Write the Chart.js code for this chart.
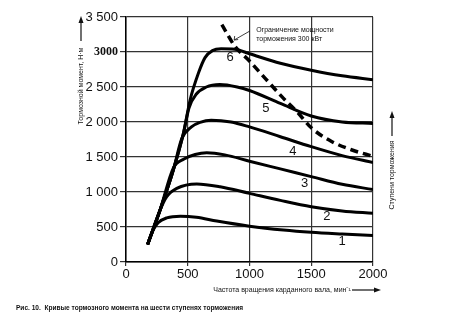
<!DOCTYPE html>
<html>
<head>
<meta charset="utf-8">
<script src="https://cdn.jsdelivr.net/npm/chart.js@4/dist/chart.umd.min.js"></script>
<style>
  body { margin: 0; background: #fff; }
  canvas { display: block; }
</style>
</head>
<body>
<canvas id="myChart" width="474" height="326"></canvas>
<script>
// data (rpm / N·m)
const stageLabels = ['1', '2', '3', '4', '5', '6'];
const rpm1 = [175, 215, 260, 330, 440, 570, 735, 1000, 1275, 1500, 1750, 2000];
const torque1 = [250, 440, 560, 630, 655, 640, 585, 512, 457, 425, 400, 378];
const rpm2 = [175, 276, 330, 411, 573, 762, 1000, 1250, 1500, 1750, 2000];
const torque2 = [250, 743, 935, 1052, 1115, 1075, 980, 880, 790, 730, 695];
const rpm3 = [175, 276, 383, 470, 560, 654, 800, 1000, 1250, 1500, 1750, 2000];
const torque3 = [250, 743, 1340, 1470, 1535, 1560, 1530, 1440, 1330, 1220, 1110, 1035];
const rpm4 = [175, 276, 383, 451, 530, 600, 690, 850, 1000, 1250, 1500, 1750, 2000];
const torque4 = [250, 743, 1314, 1760, 1930, 1995, 2025, 2000, 1930, 1790, 1648, 1520, 1420];
const rpm5 = [175, 276, 383, 465, 510, 570, 650, 760, 900, 1000, 1250, 1500, 1750, 2000];
const torque5 = [250, 743, 1314, 1839, 2200, 2400, 2500, 2535, 2500, 2450, 2265, 2085, 2000, 1980];
const rpm6 = [175, 276, 383, 465, 519, 586, 640, 700, 770, 880, 1000, 1250, 1500, 1750, 2000];
const torque6 = [250, 743, 1314, 1839, 2314, 2696, 2920, 3020, 3045, 3040, 2975, 2840, 2740, 2660, 2605];
// 300 kW power limit (dashed)
const rpmLimit = [776, 884, 992, 1127, 1262, 1384, 1505, 1668, 1830, 2000];
const torqueLimit = [3390, 3076, 2886, 2624, 2362, 2148, 1910, 1719, 1600, 1510];
// tick labels
const xTicks = [0, 500, 1000, 1500, 2000];
const yTicks = ['0', '500', '1 000', '1 500', '2 000', '2 500', '3000', '3 500'];
// where the stage numbers sit
const labelRpm = [1749, 1627, 1446, 1351, 1132, 843];
const labelTorque = [290, 647, 1124, 1586, 2195, 2918];

const allRpm = [rpm1, rpm2, rpm3, rpm4, rpm5, rpm6];
const allTorque = [torque1, torque2, torque3, torque4, torque5, torque6];

function pts(xs, ys) {
  return xs.map((v, i) => ({x: v, y: ys[i]}));
}

const datasets = allRpm.map((xs, i) => ({
  label: stageLabels[i],
  data: pts(xs, allTorque[i]),
  borderColor: '#000',
  borderWidth: 3,
  pointRadius: 0,
  cubicInterpolationMode: 'monotone',
  borderCapStyle: 'butt'
}));
datasets.push({
  label: 'limit',
  data: pts(rpmLimit, torqueLimit),
  borderColor: '#000',
  borderWidth: 3.5,
  borderDash: [8, 5],
  pointRadius: 0,
  cubicInterpolationMode: 'monotone',
  borderCapStyle: 'butt'
});

function arrow(ctx, x1, y1, x2, y2, head) {
  const a = Math.atan2(y2 - y1, x2 - x1);
  ctx.beginPath();
  ctx.moveTo(x1, y1);
  ctx.lineTo(x2 - Math.cos(a) * head, y2 - Math.sin(a) * head);
  ctx.stroke();
  ctx.beginPath();
  ctx.moveTo(x2, y2);
  ctx.lineTo(x2 - Math.cos(a) * head - Math.sin(a) * 2.5, y2 - Math.sin(a) * head + Math.cos(a) * 2.5);
  ctx.lineTo(x2 - Math.cos(a) * head + Math.sin(a) * 2.5, y2 - Math.sin(a) * head - Math.cos(a) * 2.5);
  ctx.closePath();
  ctx.fill();
}

const deco = {
  id: 'deco',
  beforeDraw(chart) {
    const ctx = chart.ctx;
    ctx.save();
    ctx.fillStyle = '#fff';
    ctx.fillRect(0, 0, chart.width, chart.height);
    ctx.restore();
  },
  afterDraw(chart) {
    const ctx = chart.ctx;
    const x = chart.scales.x, y = chart.scales.y;
    ctx.save();
    ctx.fillStyle = '#111';
    ctx.strokeStyle = '#111';

    // stage numbers
    ctx.font = '13px "Liberation Sans", Arial, sans-serif';
    ctx.textAlign = 'center';
    ctx.textBaseline = 'middle';
    stageLabels.forEach((t, i) => {
      ctx.fillText(t, x.getPixelForValue(labelRpm[i]), y.getPixelForValue(labelTorque[i]));
    });

    // power limit note
    ctx.font = '7px "Liberation Sans", Arial, sans-serif';
    ctx.textAlign = 'left';
    const tx = x.getPixelForValue(1054);
    ctx.fillText('Ограничение мощности', tx, y.getPixelForValue(3314));
    ctx.fillText('торможения 300 кВт', tx, y.getPixelForValue(3179));
    ctx.lineWidth = 0.8;
    const ax1 = x.getPixelForValue(1003), ay1 = y.getPixelForValue(3300);
    const ax2 = x.getPixelForValue(876), ay2 = y.getPixelForValue(3171);
    ctx.beginPath();
    ctx.moveTo(ax1, ay1);
    ctx.lineTo(ax2, ay2);
    ctx.moveTo(ax2 + 4, ay2 - 0.5);
    ctx.lineTo(ax2, ay2);
    ctx.lineTo(ax2 + 0.5, ay2 - 4);
    ctx.stroke();

    // axis titles
    ctx.lineWidth = 1.2;
    ctx.font = '7px "Liberation Sans", Arial, sans-serif';
    ctx.textAlign = 'center';
    ctx.save();
    ctx.translate(81, 86);
    ctx.rotate(-Math.PI / 2);
    ctx.fillText('Тормозной момент, Н·м', 0, 0);
    ctx.restore();
    arrow(ctx, 81, 41, 81, 16, 7);

    ctx.save();
    ctx.translate(392, 175);
    ctx.rotate(-Math.PI / 2);
    ctx.fillText('Ступени торможения', 0, 0);
    ctx.restore();
    arrow(ctx, 392, 136, 392, 111, 7);

    ctx.fillText('Частота вращения карданного вала, мин⁻¹', 282, 290);
    arrow(ctx, 352, 290, 381, 290, 7);

    // caption, squeezed to the width it has in the figure
    const cap = 'Рис. 10.  Кривые тормозного момента на шести ступенях торможения';
    ctx.font = 'bold 7.5px "Liberation Sans", Arial, sans-serif';
    ctx.textAlign = 'left';
    const k = 227 / ctx.measureText(cap).width;
    ctx.translate(16, 308);
    ctx.scale(k, 1);
    ctx.fillText(cap, 0, 0);
    ctx.restore();
  }
};

new Chart(document.getElementById('myChart'), {
  type: 'line',
  data: { datasets: datasets },
  options: {
    responsive: false,
    animation: false,
    layout: { padding: { left: 0, top: 17, right: 101, bottom: 0 } },
    plugins: { legend: { display: false }, tooltip: { enabled: false } },
    scales: {
      x: {
        type: 'linear',
        min: 0,
        max: 2000,
        afterFit: s => { s.height = 64; },
        afterBuildTicks: s => { s.ticks = xTicks.map(v => ({value: v})); },
        grid: { color: '#333', lineWidth: 1.2, tickLength: 4 },
        border: { color: '#000', width: 1.5 },
        ticks: {
          color: '#111',
          padding: 1,
          maxRotation: 0,
          callback: v => String(v),
          font: { family: '"Liberation Sans", Arial, sans-serif', size: 13 }
        }
      },
      y: {
        min: 0,
        max: 3500,
        afterFit: s => { s.width = 126; },
        grid: { color: '#333', lineWidth: 1.2, tickLength: 6 },
        border: { color: '#000', width: 1.5 },
        ticks: {
          stepSize: 500,
          color: '#111',
          padding: 2,
          callback: (v, i) => yTicks[i],
          font: c => (c.tick && c.tick.value === 3000)
            ? { family: '"Liberation Serif", serif', size: 12, weight: 'bold' }
            : { family: '"Liberation Sans", Arial, sans-serif', size: 13 }
        }
      }
    }
  },
  plugins: [deco]
});
</script>
</body>
</html>
